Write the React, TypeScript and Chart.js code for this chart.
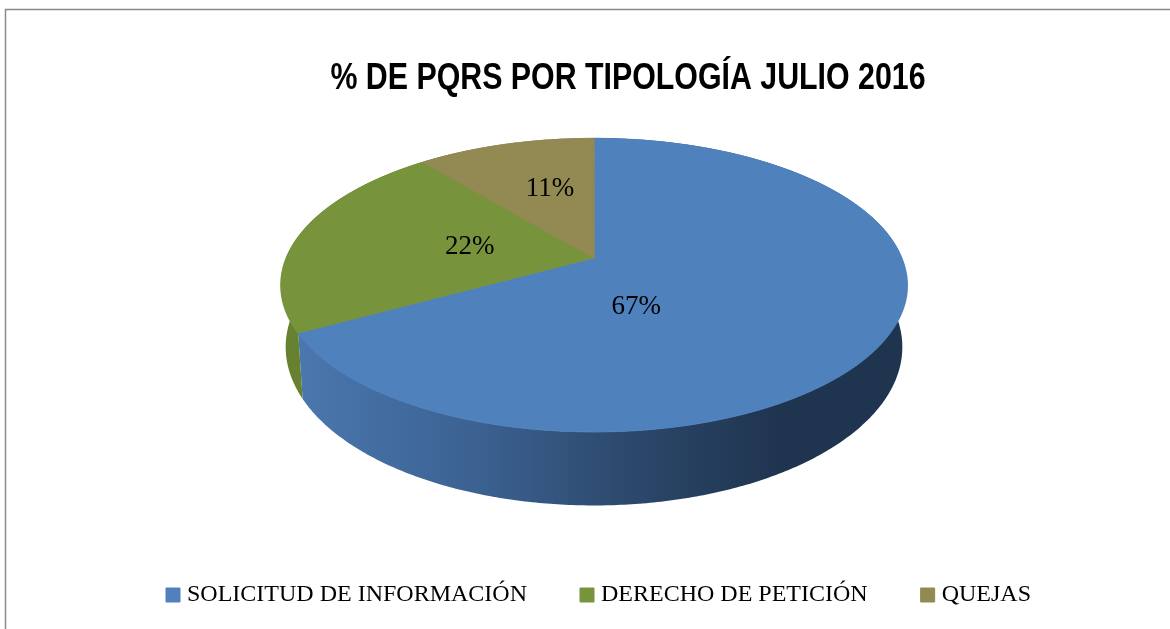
import React, { useEffect, useRef } from "react";
import { Chart, registerables } from "chart.js";

Chart.register(...registerables);

// ---------- data ----------
const TITLE = "% DE PQRS POR TIPOLOGÍA JULIO 2016";
const CATEGORIES = ["SOLICITUD DE INFORMACIÓN", "DERECHO DE PETICIÓN", "QUEJAS"];
const PERCENTS = [67, 22, 11];

// ---------- styles ----------
const TOP_COLORS = ["#4F81BD", "#77933C", "#938953"];
const SIDE_COLORS = ["#2E4B70", "#66812F", "#7A7144"];
const W = 1170;
const H = 629;
const TITLE_SHIFT = 43;
const TITLE_SQUEEZE = 0.82;
const LEGEND_SHIFT = 16;
const LEGEND_Y = 595;

// perspective projection of the pie's top plane (unit disc u,v) to the screen
const CX = 594;
const CY = 258;
const PA = 307.7;
const PB = 142;
const PK = 0.1837;
const DEPTH = 60;
const TAPER = 0.015;

function project(u: number, v: number, h: number): [number, number] {
  const q = 1 - PK * v;
  const x = CX + ((PA * u) / q) * (1 - TAPER * h);
  const y = CY + (PB * v + DEPTH * h) / q;
  return [x, y];
}

const frame = {
  id: "frame",
  beforeDraw(chart: any) {
    const ctx = chart.ctx;
    ctx.save();
    ctx.fillStyle = "#ffffff";
    ctx.fillRect(0, 0, chart.width, chart.height);
    ctx.strokeStyle = "#8a8a8a";
    ctx.lineWidth = 1.5;
    ctx.beginPath();
    ctx.moveTo(5.5, chart.height + 10);
    ctx.lineTo(5.5, 9.5);
    ctx.lineTo(chart.width + 10, 9.5);
    ctx.stroke();
    ctx.restore();
  },
  afterLayout(chart: any) {
    const t = chart.titleBlock;
    if (t) {
      t.left += TITLE_SHIFT;
      t.right += TITLE_SHIFT;
      if (!t._squeezed) {
        const orig = t.draw.bind(t);
        t.draw = function (area: any) {
          const ctx = this.ctx;
          const cx = (this.left + this.right) / 2;
          ctx.save();
          ctx.translate(cx, 0);
          ctx.scale(TITLE_SQUEEZE, 1);
          ctx.translate(-cx, 0);
          orig(area);
          ctx.restore();
        };
        t._squeezed = true;
      }
    }
    const lg = chart.legend;
    if (lg) {
      lg.left += LEGEND_SHIFT;
      lg.right += LEGEND_SHIFT;
      const pad = lg.options.labels.padding;
      const fs = lg.options.labels.font.size;
      const dy = LEGEND_Y - (lg.top + pad + fs / 2);
      lg.top += dy;
      lg.bottom += dy;
    }
  },
};

const pie3d = {
  id: "pie3d",
  beforeDatasetsDraw(chart: any) {
    const ctx: CanvasRenderingContext2D = chart.ctx;
    const meta = chart.getDatasetMeta(0);
    const arcs = meta.data as any[];
    if (!arcs.length) return false;

    // side walls
    const grad = ctx.createLinearGradient(300, 0, 900, 0);
    grad.addColorStop(0, "#4A77AE");
    grad.addColorStop(0.3, "#3B6191");
    grad.addColorStop(0.55, "#2C486B");
    grad.addColorStop(0.8, "#1F344F");
    grad.addColorStop(1, "#1F344F");
    arcs.forEach((el, i) => {
      const a1 = el.startAngle;
      const a2 = el.endAngle;
      const n = Math.max(8, Math.ceil((a2 - a1) / 0.01));
      ctx.save();
      ctx.beginPath();
      for (let j = 0; j <= n; j++) {
        const a = a1 + ((a2 - a1) * j) / n;
        const [x, y] = project(Math.cos(a), Math.sin(a), 0);
        if (j === 0) ctx.moveTo(x, y);
        else ctx.lineTo(x, y);
      }
      for (let j = n; j >= 0; j--) {
        const a = a1 + ((a2 - a1) * j) / n;
        const [x, y] = project(Math.cos(a), Math.sin(a), 1);
        ctx.lineTo(x, y);
      }
      ctx.closePath();
      ctx.fillStyle = i === 0 ? grad : SIDE_COLORS[i];
      ctx.fill();
      ctx.restore();
    });

    // top face: library arcs drawn row by row with a local affine map
    const X0 = arcs[0].x;
    const Y0 = arcs[0].y;
    const R0 = arcs[0].outerRadius;
    for (let y = 125; y < 445; y++) {
      const yc = y + 0.5;
      const t = yc - CY;
      const v0 = t / (PB + PK * t);
      const q = 1 - PK * v0;
      const s0 = PA / q;
      const g = PB / (q * q);
      ctx.save();
      ctx.setTransform(1, 0, 0, 1, 0, 0);
      ctx.beginPath();
      ctx.rect(0, y, chart.width, 1);
      ctx.clip();
      ctx.setTransform(s0 / R0, 0, 0, g / R0, CX - (s0 * X0) / R0, yc - g * (Y0 / R0 + v0));
      arcs.forEach((el) => el.draw(ctx));
      ctx.restore();
    }
    return false;
  },
  afterDraw(chart: any) {
    const ctx: CanvasRenderingContext2D = chart.ctx;
    const meta = chart.getDatasetMeta(0);
    const spots = chart.options.plugins.pie3d.spots;
    const data = chart.data.datasets[0].data;
    ctx.save();
    ctx.font = "27px 'Liberation Serif', serif";
    ctx.fillStyle = "#000000";
    ctx.textAlign = "center";
    ctx.textBaseline = "middle";
    meta.data.forEach((el: any, i: number) => {
      const sp = spots[i];
      const a = (el.startAngle + el.endAngle) / 2 + (sp.dA * Math.PI) / 180;
      const [x, y] = project(sp.f * Math.cos(a), sp.f * Math.sin(a), 0);
      ctx.fillText(`${data[i]}%`, x, y);
    });
    ctx.restore();
  },
};

export default function App() {
  const ref = useRef<HTMLCanvasElement | null>(null);
  useEffect(() => {
    if (!ref.current) return;
    const chart = new Chart(ref.current, {
      type: "pie",
      data: {
        labels: CATEGORIES,
        datasets: [
          {
            data: PERCENTS,
            backgroundColor: TOP_COLORS,
            borderColor: TOP_COLORS,
            borderWidth: 1,
            hoverOffset: 0,
          },
        ],
      },
      options: {
        responsive: false,
        animation: false,
        events: [],
        layout: { padding: 0 },
        plugins: {
          title: {
            display: true,
            text: TITLE,
            color: "#000000",
            font: { family: "'Liberation Sans', Arial, sans-serif", size: 37, weight: "bold" },
            padding: { top: 57, bottom: 0 },
          },
          legend: {
            display: true,
            position: "bottom",
            labels: {
              usePointStyle: true,
              pointStyle: "rect",
              boxWidth: 4,
              boxHeight: 14,
              color: "#000000",
              font: { family: "'Liberation Serif', serif", size: 24 },
              padding: 58,
            },
          },
          tooltip: { enabled: false },
          pie3d: {
            spots: [
              { f: 0.35, dA: 37.8 },
              { f: 0.417, dA: 0 },
              { f: 0.556, dA: 3.4 },
            ],
          },
        } as any,
      },
      plugins: [frame, pie3d],
    });
    return () => chart.destroy();
  }, []);
  return (
    <canvas
      ref={ref}
      width={W}
      height={H}
      style={{ position: "fixed", left: 0, top: 0, display: "block" }}
    />
  );
}
